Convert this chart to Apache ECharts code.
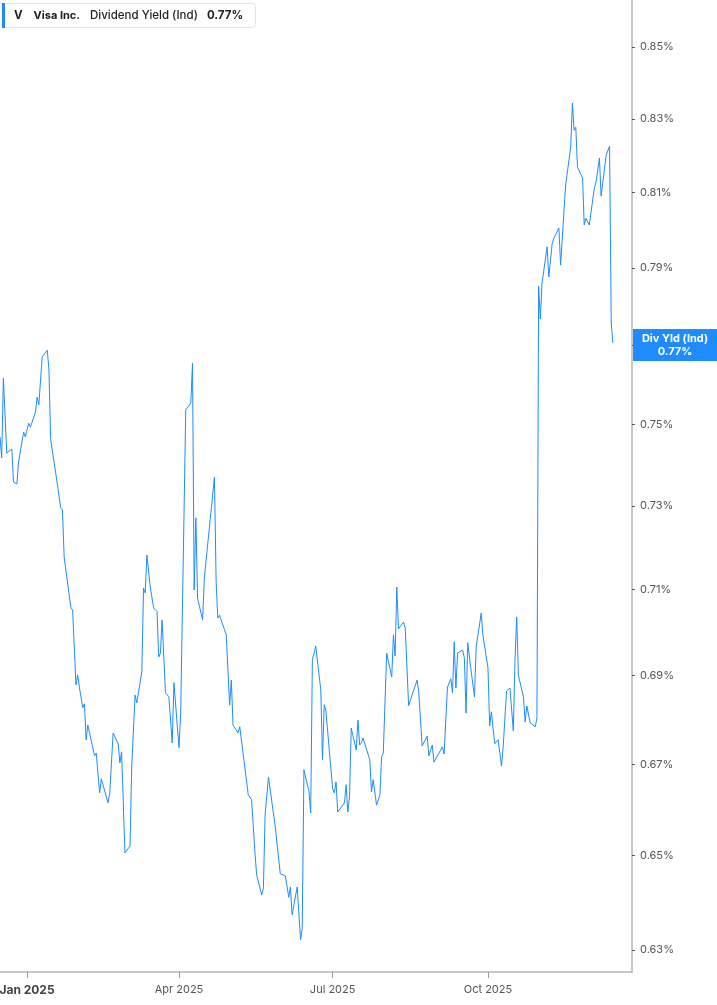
<!DOCTYPE html>
<html>
<head>
<meta charset="utf-8">
<script src="https://cdn.jsdelivr.net/npm/echarts@6/dist/echarts.min.js"></script>
<style>
html,body{margin:0;padding:0;background:#fff;}
#chart{width:717px;height:1005px;}
</style>
</head>
<body>
<div id="chart"></div>
<script>
const dates = [
'2024-12-16','2024-12-17','2024-12-18','2024-12-20','2024-12-23','2024-12-24','2024-12-26','2024-12-27','2024-12-30','2024-12-31',
'2025-01-02','2025-01-03','2025-01-06','2025-01-07','2025-01-08','2025-01-10','2025-01-13','2025-01-14','2025-01-15','2025-01-18',
'2025-01-21','2025-01-22','2025-01-23','2025-01-27','2025-01-28','2025-01-30','2025-01-31','2025-02-01',
'2025-02-03','2025-02-04','2025-02-05','2025-02-06','2025-02-10','2025-02-11','2025-02-13','2025-02-14','2025-02-18','2025-02-19',
'2025-02-21','2025-02-24','2025-02-25','2025-02-26','2025-02-28','2025-03-03','2025-03-04','2025-03-05','2025-03-06','2025-03-07',
'2025-03-10','2025-03-11','2025-03-12','2025-03-13','2025-03-15','2025-03-17',
'2025-03-19','2025-03-20','2025-03-21','2025-03-22','2025-03-24','2025-03-26','2025-03-27','2025-03-28','2025-03-29','2025-04-01',
'2025-04-02','2025-04-03','2025-04-05','2025-04-08','2025-04-09','2025-04-10','2025-04-11','2025-04-12','2025-04-15','2025-04-16',
'2025-04-22','2025-04-23','2025-04-24','2025-04-25','2025-04-29','2025-05-01',
'2025-05-02','2025-05-03','2025-05-06','2025-05-07','2025-05-12','2025-05-14','2025-05-16','2025-05-17','2025-05-20','2025-05-21',
'2025-05-22','2025-05-23','2025-05-24','2025-05-28','2025-05-29','2025-05-31','2025-06-03','2025-06-05','2025-06-06','2025-06-07',
'2025-06-10','2025-06-12','2025-06-13','2025-06-14',
'2025-06-17','2025-06-18','2025-06-19','2025-06-21','2025-06-24','2025-06-25','2025-06-26','2025-06-27','2025-07-01','2025-07-02',
'2025-07-03','2025-07-04','2025-07-08','2025-07-09','2025-07-10','2025-07-11','2025-07-12','2025-07-15','2025-07-16','2025-07-17',
'2025-07-18','2025-07-19','2025-07-23','2025-07-24','2025-07-25','2025-07-27','2025-07-29',
'2025-07-30','2025-07-31','2025-08-02','2025-08-05','2025-08-06','2025-08-07','2025-08-08','2025-08-09','2025-08-12','2025-08-13',
'2025-08-15','2025-08-20','2025-08-21','2025-08-22','2025-08-23','2025-08-26','2025-08-27','2025-08-29','2025-08-30','2025-09-04',
'2025-09-05','2025-09-07','2025-09-09','2025-09-10','2025-09-11',
'2025-09-12','2025-09-13','2025-09-16','2025-09-17','2025-09-18','2025-09-19','2025-09-21','2025-09-23','2025-09-24','2025-09-25',
'2025-09-27','2025-09-28','2025-10-01','2025-10-02','2025-10-03','2025-10-05','2025-10-07','2025-10-09','2025-10-10','2025-10-12',
'2025-10-14','2025-10-16','2025-10-17','2025-10-18','2025-10-19','2025-10-22','2025-10-23','2025-10-24','2025-10-26','2025-10-29',
'2025-10-30',
'2025-10-31','2025-11-01','2025-11-02','2025-11-05','2025-11-06','2025-11-07','2025-11-08','2025-11-09','2025-11-12','2025-11-13',
'2025-11-14','2025-11-16','2025-11-19','2025-11-20','2025-11-21','2025-11-22','2025-11-23','2025-11-26','2025-11-27','2025-11-28',
'2025-11-30','2025-12-03','2025-12-04','2025-12-05','2025-12-06','2025-12-07','2025-12-10','2025-12-12','2025-12-13','2025-12-14'
];
const yieldValues = [
0.7469,0.7417,0.7616,0.7429,0.7439,0.7358,0.7353,0.7407,0.7481,0.7469,
0.7503,0.7493,0.7531,0.7568,0.7549,0.7670,0.7687,0.7637,0.7462,0.7380,
0.7295,0.7290,0.7177,0.7057,0.7052,0.6879,0.6902,0.6874,
0.6827,0.6836,0.6755,0.6788,0.6719,0.6725,0.6637,0.6668,0.6615,0.6637,
0.6770,0.6746,0.6703,0.6728,0.6506,0.6521,0.6694,0.6692,0.6856,0.6838,
0.6909,0.7104,0.7092,0.7182,0.7106,0.7057,
0.7048,0.6943,0.6952,0.7029,0.6861,0.6852,0.6856,0.6748,0.6884,0.6737,
0.6815,0.6815,0.7536,0.7553,0.7654,0.7099,0.7271,0.7080,0.7029,0.7127,
0.7370,0.7118,0.7033,0.7040,0.6994,0.6833,
0.6890,0.6788,0.6770,0.6784,0.6633,0.6622,0.6506,0.6459,0.6416,0.6431,
0.6589,0.6593,0.6672,0.6563,0.6561,0.6461,0.6457,0.6411,0.6433,0.6374,
0.6433,0.6321,0.6346,0.6688,
0.6640,0.6593,0.6937,0.6968,0.6867,0.6710,0.6834,0.6820,0.6646,0.6637,
0.6661,0.6595,0.6615,0.6655,0.6595,0.6628,0.6781,0.6732,0.6799,0.6743,
0.6748,0.6759,0.6710,0.6639,0.6666,0.6610,0.6633,
0.6717,0.6725,0.6952,0.6897,0.6994,0.6945,0.7106,0.7008,0.7024,0.7010,
0.6832,0.6890,0.6863,0.6865,0.6741,0.6763,0.6719,0.6743,0.6705,0.6739,
0.6723,0.6874,0.6893,0.6861,0.6978,
0.6872,0.6952,0.6959,0.6941,0.6815,0.6976,0.6911,0.6852,0.6966,0.6968,
0.7045,0.6994,0.6918,0.6786,0.6818,0.6746,0.6755,0.6696,0.6739,0.6865,
0.6872,0.6775,0.6936,0.7036,0.6901,0.6852,0.6795,0.6831,0.6793,0.6784,
0.6804,
0.7852,0.7767,0.7860,0.7955,0.7876,0.7879,0.7963,0.7978,0.8005,0.7907,
0.7912,0.8120,0.8223,0.8344,0.8269,0.8277,0.8168,0.8139,0.8013,0.8031,
0.8013,0.8112,0.8128,0.8131,0.8193,0.8090,0.8201,0.8225,0.7756,0.7705
];
const yTickValues = [0.63,0.65,0.67,0.69,0.71,0.73,0.75,0.77,0.79,0.81,0.83,0.85];
const xTickDates = ['2025-01-01','2025-04-01','2025-07-01','2025-10-01'];
const monthNames = ['Jan','Feb','Mar','Apr','May','Jun','Jul','Aug','Sep','Oct','Nov','Dec'];
const tickerText = 'V';
const companyText = 'Visa Inc.';
const metricText = 'Dividend Yield (Ind)';
const lastValueText = '0.77%';
const endLabelName = 'Div Yld (Ind)';

const BLUE = '#1e8cff';
const FONT = 'Inter, "Noto Sans", sans-serif';
const chart = echarts.init(document.getElementById('chart'), null, {renderer: 'canvas'});
const lastVal = yieldValues[yieldValues.length - 1];
const ts = s => Date.parse(s.length > 10 ? s + 'Z' : s);

chart.setOption({
  animation: false,
  textStyle: {fontFamily: FONT},
  title: {
    left: 2, top: 3,
    padding: [0, 13, 0, 0],
    backgroundColor: '#fff',
    borderColor: '#e3e3e3', borderWidth: 1, borderRadius: 3,
    text: '{bar|}{b1|' + tickerText + '}{b2|' + companyText + '}{n|' + metricText + '}{b3|' + lastValueText + '}',
    textStyle: {
      rich: {
        bar: {width: 3, height: 25, backgroundColor: BLUE},
        b1: {fontFamily: FONT, fontSize: 11.5, fontWeight: 'bold', color: '#222', padding: [0, 0, 0, 9]},
        b2: {fontFamily: FONT, fontSize: 11, fontWeight: 'bold', color: '#222', padding: [0, 0, 0, 11]},
        n: {fontFamily: FONT, fontSize: 11.5, fontWeight: 500, color: '#222', padding: [0, 0, 0, 10]},
        b3: {fontFamily: FONT, fontSize: 11.5, fontWeight: 'bold', color: '#222', padding: [0, 0, 0, 9]}
      }
    }
  },
  grid: {left: 0, right: 85, top: 0, bottom: 33, containLabel: false, outerBoundsMode: 'none'},
  xAxis: {
    type: 'value',
    min: ts('2024-12-16'),
    max: ts('2025-12-25T07:00:00'),
    axisLine: {show: true, onZero: false, lineStyle: {color: '#b5b5b5', width: 1.5}},
    axisTick: {show: true, customValues: xTickDates.map(ts), length: 6, lineStyle: {color: '#999'}},
    splitLine: {show: false},
    axisLabel: {
      customValues: xTickDates.map(ts),
      margin: 12,
      fontFamily: FONT, fontSize: 11, color: '#555',
      formatter: function (v) {
        const d = new Date(v);
        const m = d.getUTCMonth();
        const t = monthNames[m] + ' ' + d.getUTCFullYear();
        return m === 0 ? '{y|' + t + '}' : t;
      },
      rich: {y: {fontFamily: FONT, fontSize: 12, fontWeight: 'bold', color: '#444'}}
    }
  },
  yAxis: {
    type: 'log',
    position: 'right',
    min: 0.6254,
    max: 0.8634,
    axisLine: {show: true, lineStyle: {color: '#b5b5b5', width: 1.5}},
    axisTick: {show: true, customValues: yTickValues, length: 3, lineStyle: {color: '#555'}},
    splitLine: {show: false},
    axisLabel: {
      customValues: yTickValues,
      margin: 8,
      fontFamily: FONT, fontSize: 11, color: '#555',
      formatter: function (v) { return Number(v).toFixed(2) + '%'; }
    }
  },
  series: [{
    type: 'line',
    showSymbol: false,
    data: dates.map((d, i) => [ts(d), yieldValues[i]]),
    lineStyle: {color: BLUE, width: 1},
    itemStyle: {color: BLUE},
    z: 3,
    markLine: {
      silent: true,
      symbol: ['none', 'none'],
      z: 10,
      lineStyle: {width: 0, color: 'rgba(0,0,0,0)', type: 'solid'},
      data: [{yAxis: lastVal}],
      label: {
        show: true,
        position: 'end',
        distance: 1,
        color: '#fff',
        backgroundColor: BLUE,
        padding: [3, 6, 3, 6],
        formatter: '{a|' + endLabelName + '}\n{a|' + lastValueText + '}',
        rich: {a: {width: 72, align: 'center', color: '#fff', fontFamily: FONT, fontSize: 11, fontWeight: 'bold', lineHeight: 13}}
      }
    }
  }]
});
</script>
</body>
</html>
